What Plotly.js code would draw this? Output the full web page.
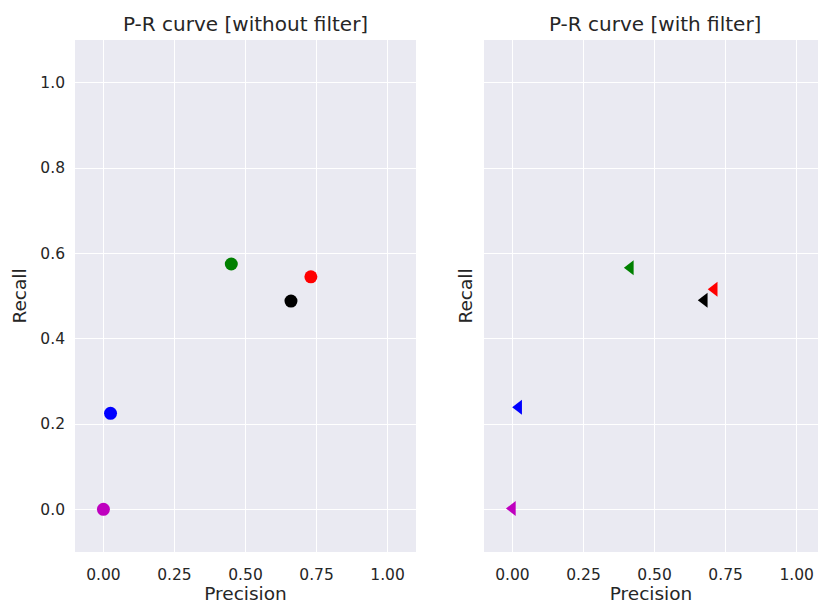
<!DOCTYPE html>
<html><head><meta charset="utf-8">
<script src="https://cdn.plot.ly/plotly-3.0.1.min.js"></script>
<style>html,body{margin:0;padding:0;background:#fff}</style>
</head><body><div id="chart" style="width:818px;height:605px"></div>
<script>
const colors = ['m', 'b', 'g', 'k', 'r'];
const colorHex = ['#bf00bf', '#0000ff', '#008000', '#000000', '#ff0000'];
const precisionNoFilter = [0.0, 0.025, 0.45, 0.66, 0.73];
const recallNoFilter = [0.0, 0.225, 0.575, 0.488, 0.545];
const precisionFilter = [0.0, 0.022, 0.415, 0.675, 0.71];
const recallFilter = [0.002, 0.239, 0.566, 0.49, 0.516];
const titles = ['P-R curve [without filter]', 'P-R curve [with filter]'];
const xTicks = [0, 0.25, 0.5, 0.75, 1.0];
const xTickText = ['0.00', '0.25', '0.50', '0.75', '1.00'];
const yTicks = [0, 0.2, 0.4, 0.6, 0.8, 1.0];
const yTickText = ['0.0', '0.2', '0.4', '0.6', '0.8', '1.0'];

const txt = '#262626';
const font = 'DejaVu Sans, sans-serif';
const traces = [];
for (let i = 0; i < colors.length; i++) {
  traces.push({x: [precisionNoFilter[i]], y: [recallNoFilter[i]], type: 'scatter', mode: 'markers',
    marker: {symbol: 'circle', size: 13, color: colorHex[i]}, xaxis: 'x', yaxis: 'y', showlegend: false});
  traces.push({x: [precisionFilter[i]], y: [recallFilter[i]], type: 'scatter', mode: 'markers',
    marker: {symbol: 'triangle-left', size: 13, color: colorHex[i]}, xaxis: 'x2', yaxis: 'y2', showlegend: false});
}
const tickFont = {family: font, size: 15.5, color: txt};
const labFont = {family: font, size: 18.5, color: txt};
const axBase = {showline: false, zeroline: false, gridcolor: '#ffffff', gridwidth: 1.3, ticks: '', tickfont: tickFont};
const layout = {
  width: 818, height: 605,
  margin: {l: 0, r: 0, t: 40, b: 53},
  paper_bgcolor: '#ffffff', plot_bgcolor: '#eaeaf2',
  font: {family: font, color: txt},
  xaxis: Object.assign({}, axBase, {domain: [75/818, 416/818], range: [-0.1, 1.1], tickvals: xTicks, ticktext: xTickText,
    ticklabelstandoff: 11, title: {text: 'Precision', font: labFont, standoff: 3}, anchor: 'y'}),
  yaxis: Object.assign({}, axBase, {domain: [0, 1], range: [-0.1, 1.1], tickvals: yTicks, ticktext: yTickText,
    ticklabelstandoff: 9, title: {text: 'Recall', font: labFont, standoff: 8}, anchor: 'x'}),
  xaxis2: Object.assign({}, axBase, {domain: [484/818, 1], range: [-0.1, 1.075], tickvals: xTicks, ticktext: xTickText,
    ticklabelstandoff: 11, title: {text: 'Precision', font: labFont, standoff: 3}, anchor: 'y2'}),
  yaxis2: Object.assign({}, axBase, {domain: [0, 1], range: [-0.1, 1.1], tickvals: yTicks, showticklabels: false,
    title: {text: 'Recall', font: labFont, standoff: 5}, anchor: 'x2'}),
  annotations: [
    {text: titles[0], x: 245.5/818, y: 1, xref: 'paper', yref: 'paper', xanchor: 'center', yanchor: 'bottom', yshift: 2, showarrow: false,
      font: {family: font, size: 20, color: txt}},
    {text: titles[1], x: 654.5/818, y: 1, xref: 'paper', yref: 'paper', xanchor: 'center', yanchor: 'bottom', yshift: 2, showarrow: false,
      font: {family: font, size: 20, color: txt}}
  ]
};
Plotly.newPlot('chart', traces, layout, {displayModeBar: false});
</script></body></html>
